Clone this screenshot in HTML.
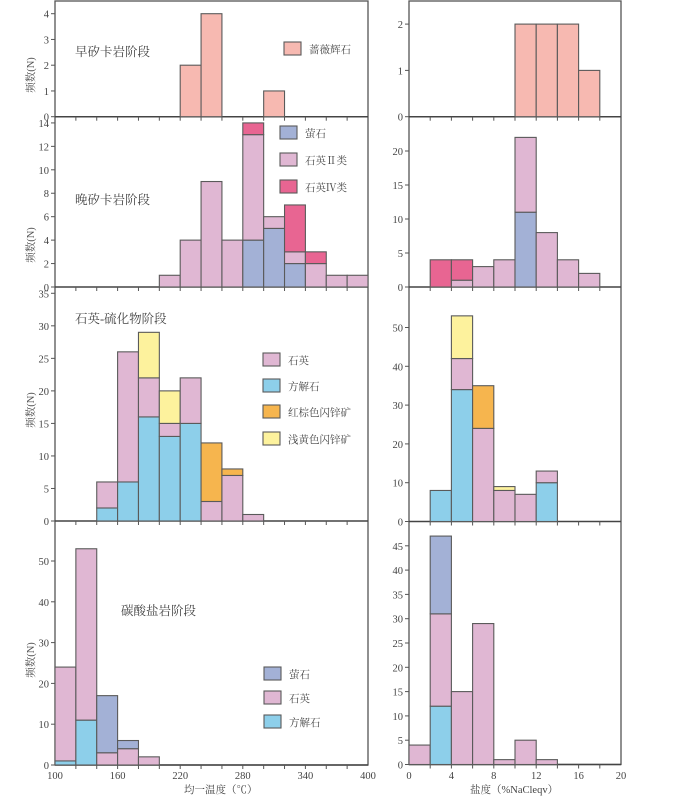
<!DOCTYPE html>
<html><head><meta charset="utf-8">
<style>
html,body{margin:0;padding:0;background:#fff;}
svg{display:block;font-family:"Liberation Serif","Noto Serif CJK SC",serif;}
</style></head>
<body>
<svg id="chart" width="700" height="796" viewBox="0 0 700 796" xmlns="http://www.w3.org/2000/svg"></svg>
<script>
// ---- colors / series names ----
const C = {rose:'#f7b9b1', fl:'#a3b1d6', qz:'#e0b7d3', q4:'#e86592', ca:'#8dcfea', rb:'#f6b54e', ly:'#fdf29d'};

// ---- Left (homogenization temperature) data: bin starts (°C), width 20 ----
const tBins1 = [220,240,300];
const tRose1 = [2,4,1];

const tBins2 = [200,220,240,260,280,300,320,340,360,380];
const tFl2   = [0,0,0,0,4,5,2,0,0,0];
const tQ2_2  = [1,4,9,4,9,1,1,2,1,1];
const tQ4_2  = [0,0,0,0,1,0,4,1,0,0];

const tBins3 = [140,160,180,200,220,240,260,280];
const tCa3   = [2,6,16,13,15,0,0,0];
const tQz3   = [4,20,6,2,7,3,7,1];
const tRb3   = [0,0,0,0,0,9,1,0];
const tLy3   = [0,0,7,5,0,0,0,0];

const tBins4 = [100,120,140,160,180];
const tCa4   = [1,11,0,0,0];
const tQz4   = [23,42,3,4,2];
const tFl4   = [0,0,14,2,0];

// ---- Right (salinity) data: bin starts, width 2 ----
const sBins1 = [10,12,14,16];
const sRose1 = [2,2,2,1];

const sBins2 = [2,4,6,8,10,12,14,16];
const sFl2   = [0,0,0,0,11,0,0,0];
const sQ2_2  = [0,1,3,4,11,8,4,2];
const sQ4_2  = [4,3,0,0,0,0,0,0];

const sBins3 = [2,4,6,8,10,12];
const sCa3   = [8,34,0,0,0,10];
const sQz3   = [0,8,24,8,7,3];
const sRb3   = [0,0,11,0,0,0];
const sLy3   = [0,11,0,1,0,0];

const sBins4 = [0,2,4,6,8,10,12];
const sCa4   = [0,12,0,0,0,0,0];
const sQz4   = [4,19,15,29,1,5,1];
const sFl4   = [0,16,0,0,0,0,0];

// ---- tick labels ----
const tTicksX = [100,160,220,280,340,400];
const sTicksX = [0,4,8,12,16,20];
const tTicksY1 = [0,1,2,3,4];
const tTicksY2 = [0,2,4,6,8,10,12,14];
const tTicksY3 = [0,5,10,15,20,25,30,35];
const tTicksY4 = [0,10,20,30,40,50];
const sTicksY1 = [0,1,2];
const sTicksY2 = [0,5,10,15,20];
const sTicksY3 = [0,10,20,30,40,50];
const sTicksY4 = [0,5,10,15,20,25,30,35,40,45];

const svg = document.getElementById('chart');
const NS = 'http://www.w3.org/2000/svg';
function mk(tag, attrs, parent){
  const e = document.createElementNS(NS, tag);
  for (const k in attrs) e.setAttribute(k, attrs[k]);
  (parent||svg).appendChild(e);
  return e;
}

// layout
const L = {x0:55, x1:368, dmin:100, dmax:400, step:20};
const R = {x0:409, x1:621, dmin:0, dmax:20, step:2};
const rowsL = [
  {top:1, base:116.7, perUnit:25.75},
  {top:117, base:287, perUnit:11.72},
  {top:287, base:521, perUnit:6.506},
  {top:521, base:765, perUnit:4.08}
];
const rowsR = [
  {top:1, base:116.7, perUnit:46.3},
  {top:117, base:287, perUnit:6.8},
  {top:287, base:521.5, perUnit:3.88},
  {top:521, base:764.5, perUnit:4.86}
];
function xs(P, v){ return P.x0 + (v - P.dmin) * (P.x1 - P.x0) / (P.dmax - P.dmin); }
function ys(row, v){ return row.base - v * row.perUnit; }

function drawStack(P, row, bins, binW, layers, name){
  const g = mk('g', {});
  
  
  bins.forEach((b, i) => {
    let cum = 0;
    layers.forEach(([vals, col, lname]) => {
      const v = vals[i];
      if (!v) return;
      const xa = xs(P, b), xb = xs(P, b + binW);
      const ya = ys(row, cum + v), yb = ys(row, cum);
      const r = mk('rect', {x:xa, y:ya, width:xb - xa, height:yb - ya, fill:col, stroke:'#5a5a5a', 'stroke-width':1.1}, g);
      
      
      cum += v;
    });
  });
}

function drawYAxis(P, row, ticks, name){
  const g = mk('g', {});
  
  
  ticks.forEach(t => {
    const y = ys(row, t);
    mk('line', {x1:P.x0 - 4, x2:P.x0, y1:y, y2:y, stroke:'#555', 'stroke-width':1}, g);
    const tx = mk('text', {x:P.x0 - 6, y:y + 4, 'text-anchor':'end', 'font-size':10.5, fill:'#444'}, g);
    tx.textContent = t;
  });
}
function drawXTicks(P, row){
  for (let v = P.dmin + P.step; v < P.dmax; v += P.step) {
    const x = xs(P, v);
    mk('line', {x1:x, x2:x, y1:row.base, y2:row.base + 4, stroke:'#555', 'stroke-width':1});
  }
}

// frames
[[L, rowsL],[R, rowsR]].forEach(([P, rows], side) => {
  const f = mk('rect', {x:P.x0, y:1, width:P.x1 - P.x0, height:rows[3].base - 1, fill:'none', stroke:'#555', 'stroke-width':1.3});
  
  
  rows.forEach(r => {
    mk('line', {x1:P.x0, x2:P.x1, y1:r.base, y2:r.base, stroke:'#444', 'stroke-width':1.5});
    drawXTicks(P, r);
  });
});

// bars — left
drawStack(L, rowsL[0], tBins1, 20, [[tRose1, C.rose, 'rhodonite']], 'early-skarn-temp-bars');
drawStack(L, rowsL[1], tBins2, 20, [[tFl2, C.fl, 'fluorite'],[tQ2_2, C.qz, 'quartz-ii'],[tQ4_2, C.q4, 'quartz-iv']], 'late-skarn-temp-bars');
drawStack(L, rowsL[2], tBins3, 20, [[tCa3, C.ca, 'calcite'],[tQz3, C.qz, 'quartz'],[tRb3, C.rb, 'red-brown-sphalerite'],[tLy3, C.ly, 'light-yellow-sphalerite']], 'quartz-sulfide-temp-bars');
drawStack(L, rowsL[3], tBins4, 20, [[tCa4, C.ca, 'calcite'],[tQz4, C.qz, 'quartz'],[tFl4, C.fl, 'fluorite']], 'carbonate-temp-bars');
// bars — right
drawStack(R, rowsR[0], sBins1, 2, [[sRose1, C.rose, 'rhodonite']], 'early-skarn-salinity-bars');
drawStack(R, rowsR[1], sBins2, 2, [[sFl2, C.fl, 'fluorite'],[sQ2_2, C.qz, 'quartz-ii'],[sQ4_2, C.q4, 'quartz-iv']], 'late-skarn-salinity-bars');
drawStack(R, rowsR[2], sBins3, 2, [[sCa3, C.ca, 'calcite'],[sQz3, C.qz, 'quartz'],[sRb3, C.rb, 'red-brown-sphalerite'],[sLy3, C.ly, 'light-yellow-sphalerite']], 'quartz-sulfide-salinity-bars');
drawStack(R, rowsR[3], sBins4, 2, [[sCa4, C.ca, 'calcite'],[sQz4, C.qz, 'quartz'],[sFl4, C.fl, 'fluorite']], 'carbonate-salinity-bars');

// y axes
[tTicksY1,tTicksY2,tTicksY3,tTicksY4].forEach((t,i) => drawYAxis(L, rowsL[i], t, 'temp-y-axis-' + (i+1)));
[sTicksY1,sTicksY2,sTicksY3,sTicksY4].forEach((t,i) => drawYAxis(R, rowsR[i], t, 'salinity-y-axis-' + (i+1)));

// x tick labels
const gx1 = mk('g', {});


tTicksX.forEach(v => { const t = mk('text', {x:xs(L, v), y:779, 'text-anchor':'middle', 'font-size':10.5, fill:'#444'}, gx1); t.textContent = v; });
const gx2 = mk('g', {});


sTicksX.forEach(v => { const t = mk('text', {x:xs(R, v), y:779, 'text-anchor':'middle', 'font-size':10.5, fill:'#444'}, gx2); t.textContent = v; });

// y axis titles
[75, 245, 410, 660].forEach((cy, i) => {
  const t = mk('text', {x:0, y:0, transform:'translate(34,' + cy + ') rotate(-90)', 'text-anchor':'middle', 'font-size':10.5, fill:'#555'});
  
  
  t.textContent = '频数(N)';
});

function label(x, y, s, name, size){
  const t = mk('text', {x:x, y:y, 'font-size':size || 12.5, fill:'#444'});
  
  
  t.textContent = s;
  return t;
}
label(184, 793, '均一温度（℃）', 'temp-x-axis-title', 10.5);
label(470, 793, '盐度（%NaCleqv）', 'salinity-x-axis-title', 10.5);

label(75, 56, '早矽卡岩阶段', 'early-skarn-stage-label');
label(75, 204, '晚矽卡岩阶段', 'late-skarn-stage-label');
label(75, 323, '石英-硫化物阶段', 'quartz-sulfide-stage-label');
label(121, 615, '碳酸盐岩阶段', 'carbonate-stage-label');

function legend(x, y, col, s, name){
  const g = mk('g', {});
  
  
  mk('rect', {x:x, y:y, width:17, height:13, fill:col, stroke:'#5a5a5a', 'stroke-width':1.1}, g);
  const t = mk('text', {x:x + 25, y:y + 11, 'font-size':10.5, fill:'#444'}, g);
  t.textContent = s;
}
legend(284, 42, C.rose, '蔷薇辉石', 'legend-rhodonite');
legend(280, 126, C.fl, '萤石', 'legend-fluorite-late');
legend(280, 153, C.qz, '石英Ⅱ类', 'legend-quartz-ii');
legend(280, 180, C.q4, '石英Ⅳ类', 'legend-quartz-iv');
legend(263, 353, C.qz, '石英', 'legend-quartz-sulfide');
legend(263, 379, C.ca, '方解石', 'legend-calcite-sulfide');
legend(263, 405, C.rb, '红棕色闪锌矿', 'legend-red-brown-sphalerite');
legend(263, 432, C.ly, '浅黄色闪锌矿', 'legend-light-yellow-sphalerite');
legend(264, 667, C.fl, '萤石', 'legend-fluorite-carbonate');
legend(264, 691, C.qz, '石英', 'legend-quartz-carbonate');
legend(264, 715, C.ca, '方解石', 'legend-calcite-carbonate');
</script>
</body></html>
